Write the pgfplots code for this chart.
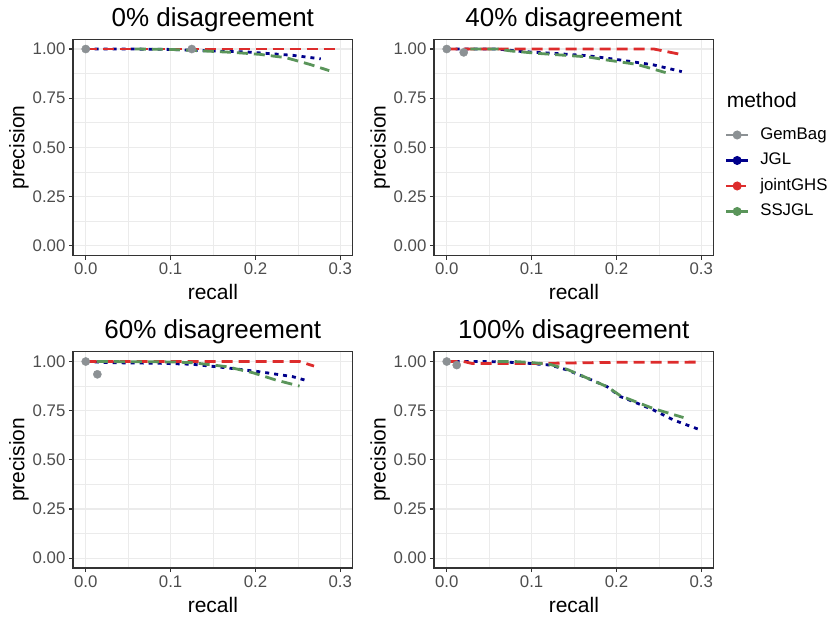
\documentclass[border=0pt]{standalone}
\usepackage{fontspec}
\setmainfont{Liberation Sans}
\usepackage{pgfplots}
\pgfplotsset{compat=1.18}
\definecolor{cgem}{HTML}{8C9194}
\definecolor{cjgl}{HTML}{00008B}
\definecolor{cghs}{HTML}{DD2C2C}
\definecolor{cssj}{HTML}{5A955A}
\definecolor{cgrid}{HTML}{EBEBEB}
\definecolor{cborder}{HTML}{333333}
\definecolor{ctick}{HTML}{4D4D4D}
\pgfplotsset{
  panel/.style={
    scale only axis, width=279.7bp, height=216.3bp,
    anchor=south west,
    xmin=-0.015, xmax=0.3146, ymin=-0.05, ymax=1.05,
    xtick={0,0.1,0.2,0.3}, xticklabels={0.0,0.1,0.2,0.3},
    ytick={0,0.25,0.5,0.75,1}, yticklabels={0.00,0.25,0.50,0.75,1.00},
    minor xtick={0.05,0.15,0.25}, minor ytick={0.125,0.375,0.625,0.875},
    xtick pos=bottom, ytick pos=left,
    tick align=outside, major tick length=4.1bp, minor tick length=0bp,
    every tick/.style={cborder, line width=1.07bp},
    grid=both,
    major grid style={cgrid, line width=1.07bp},
    minor grid style={cgrid, line width=0.55bp},
    axis line style={cborder, line width=1.07bp},
    ticklabel style={font=\fontsize{16.8bp}{20bp}\selectfont, text=ctick},
    /pgf/number format/assume math mode=true,
    xlabel={recall}, ylabel={precision},
    label style={font=\fontsize{21bp}{25bp}\selectfont},
    xlabel style={at={(axis description cs:0.5,-0.205)}, anchor=base},
    ylabel style={at={(axis description cs:-0.1734,0.5)}, anchor=base, rotate=0},
    title style={font=\fontsize{26bp}{31bp}\selectfont, at={(axis description cs:0.5,1.033)}, anchor=base},
    clip=true,
  },
  jgl/.style={cjgl, line width=2.8bp, dash pattern=on 4bp off 5bp, no markers},
  ghs/.style={cghs, line width=2.8bp, dash pattern=on 11bp off 6bp, no markers},
  ssj/.style={cssj, line width=2.8bp, dash pattern=on 11bp off 6bp, no markers},
  gem/.style={cgem, only marks, mark=*, mark size=4.1bp, mark options={draw=cgem, fill=cgem}},
}
\begin{document}
\begin{tikzpicture}
\useasboundingbox (0,0) rectangle (830bp,623bp);
% ---- 0% ----
\begin{axis}[panel, at={(73bp,367.5bp)}, title={0\% disagreement}]
\addplot[jgl] coordinates {(0,1.0) (0.05,1.0) (0.1,0.998) (0.15,0.99) (0.19,0.985) (0.244,0.968) (0.277,0.95)};
\addplot[ghs] coordinates {(0,1.0) (0.296,1.0)};
\addplot[ssj] coordinates {(0.058,1.0) (0.1,0.998) (0.14,0.99) (0.173,0.983) (0.205,0.973) (0.236,0.956) (0.264,0.922) (0.287,0.89)};
\addplot[gem] coordinates {(0,1.0) (0.125,1.0)};
\end{axis}
% ---- 40% ----
\begin{axis}[panel, at={(434bp,367.5bp)}, title={40\% disagreement},
  legend style={at={(axis description cs:1.0404,0.593)}, anchor=north west, draw=none, fill=none,
    inner sep=0pt, outer sep=0pt, font=\fontsize{16.8bp}{20bp}\selectfont,
    row sep=10bp, column sep=11bp,
    nodes={inner sep=0pt, text height=12bp, text depth=3.5bp}},
  legend cell align=left,
  legend image code/.code={\draw[mark repeat=2,mark phase=2,#1] plot coordinates {(0bp,0bp) (11bp,0bp) (22bp,0bp)};}]
\addlegendimage{cgem, line width=2.3bp, mark=*, mark size=3.3bp, mark options={solid, fill=cgem}}
\addlegendentry{GemBag}
\addlegendimage{cjgl, line width=2.3bp, mark=*, mark size=3.3bp, mark options={solid, fill=cjgl}}
\addlegendentry{JGL}
\addlegendimage{cghs, line width=2.3bp, dash pattern=on 8bp off 4bp, mark=*, mark size=3.3bp, mark options={solid, fill=cghs}}
\addlegendentry{jointGHS}
\addlegendimage{cssj, line width=2.3bp, mark=*, mark size=3.3bp, mark options={solid, fill=cssj}}
\addlegendentry{SSJGL}
\addplot[jgl, forget plot] coordinates {(0,1.0) (0.06,1.0) (0.087,0.988) (0.126,0.978) (0.166,0.966) (0.205,0.944) (0.244,0.919) (0.277,0.885)};
\addplot[ghs, forget plot] coordinates {(0,1.0) (0.244,1.0) (0.273,0.975)};
\addplot[ssj, forget plot] coordinates {(0.028,1.0) (0.06,1.0) (0.076,0.99) (0.107,0.978) (0.166,0.96) (0.189,0.944) (0.224,0.922) (0.258,0.88)};
\addplot[gem, forget plot] coordinates {(0,1.0) (0.02,0.983)};
\end{axis}
\node[anchor=base west, font=\fontsize{21bp}{25bp}\selectfont] at (723.3bp,515bp) {method};
% ---- 60% ----
\begin{axis}[panel, at={(73bp,55bp)}, title={60\% disagreement}]
\addplot[jgl] coordinates {(0,1.0) (0.03,0.994) (0.087,0.991) (0.126,0.986) (0.166,0.968) (0.205,0.948) (0.244,0.923) (0.258,0.906)};
\addplot[ghs] coordinates {(0,1.0) (0.252,1.0) (0.269,0.977)};
\addplot[ssj] coordinates {(0.013,1.0) (0.1,0.998) (0.126,0.994) (0.166,0.974) (0.197,0.943) (0.224,0.906) (0.252,0.875)};
\addplot[gem] coordinates {(0,1.0) (0.0137,0.935)};
\end{axis}
% ---- 100% ----
\begin{axis}[panel, at={(434bp,55bp)}, title={100\% disagreement}]
\addplot[jgl] coordinates {(0,1.0) (0.05,1.0) (0.087,0.994) (0.122,0.982) (0.142,0.957) (0.166,0.915) (0.189,0.872) (0.205,0.821) (0.22,0.796) (0.244,0.753) (0.267,0.703) (0.299,0.652)};
\addplot[ghs] coordinates {(0,1.0) (0.02,1.0) (0.03,0.99) (0.1,0.99) (0.15,0.993) (0.2,0.996) (0.3,0.997)};
\addplot[ssj] coordinates {(0.06,1.0) (0.08,1.0) (0.1,0.995) (0.122,0.985) (0.142,0.96) (0.166,0.915) (0.189,0.872) (0.205,0.825) (0.22,0.8) (0.244,0.76) (0.279,0.715)};
\addplot[gem] coordinates {(0,1.0) (0.0118,0.982)};
\end{axis}
\end{tikzpicture}
\end{document}
